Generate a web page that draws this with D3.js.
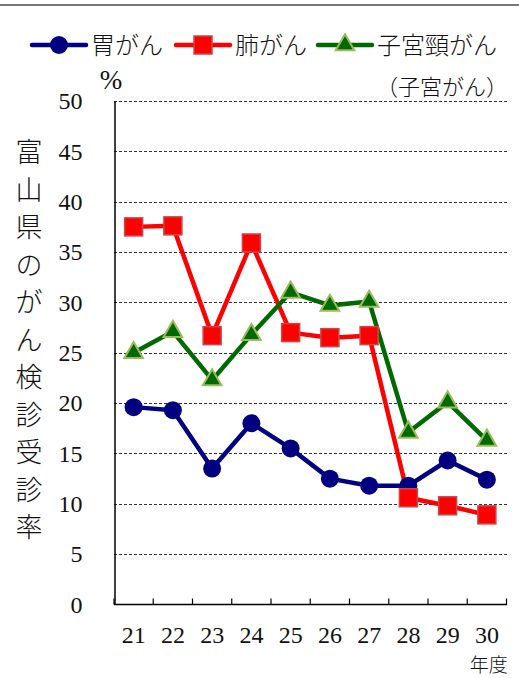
<!DOCTYPE html>
<html>
<head>
<meta charset="utf-8">
<script src="https://cdn.jsdelivr.net/npm/d3@7"></script>
<style>
  body { margin: 0; background: #fff; }
  svg { display: block; }
  .num { font-family: "Liberation Serif", "DejaVu Serif", serif; }
  .jp { font-family: "Noto Sans CJK JP", sans-serif; font-weight: 300; }
</style>
</head>
<body>
<div class="chart"></div>
<script>
const years = ["21", "22", "23", "24", "25", "26", "27", "28", "29", "30"];
const stomach = [19.6, 19.3, 13.5, 18.0, 15.5, 12.5, 11.8, 11.8, 14.3, 12.4];
const lung = [37.5, 37.6, 26.7, 35.9, 27.0, 26.5, 26.7, 10.6, 9.8, 8.9];
const cervix = [25.0, 27.1, 22.3, 26.8, 31.0, 29.7, 30.1, 17.1, 20.1, 16.3];
const yTicks = [0, 5, 10, 15, 20, 25, 30, 35, 40, 45, 50];
const seriesNames = ["胃がん", "肺がん", "子宮頸がん"];
const yTitle = "富山県のがん検診受診率";

const W = 519, H = 678;
const m = { left: 114, right: 12, top: 101, bottom: 73 };

const svg = d3.select(".chart").append("svg")
    .attr("width", W)
    .attr("height", H);

// top rule
svg.append("line")
    .attr("x1", 0).attr("x2", W)
    .attr("y1", 5).attr("y2", 5)
    .attr("stroke", "#777").attr("stroke-width", 2);

const x = d3.scaleBand()
    .domain(years)
    .range([m.left, W - m.right - 0.5]);
const y = d3.scaleLinear()
    .domain([0, 50])
    .range([H - m.bottom - 0.5, m.top]);

// grid
svg.append("g")
    .selectAll("line")
    .data(yTicks.filter(d => d > 0))
    .enter()
    .append("line")
    .attr("x1", m.left).attr("x2", W - m.right)
    .attr("y1", d => Math.round(y(d)) + 0.5)
    .attr("y2", d => Math.round(y(d)) + 0.5)
    .attr("stroke", "#333")
    .attr("stroke-width", 1.2)
    .attr("stroke-dasharray", "3,2");

// y axis
const yAxis = svg.append("g")
    .attr("transform", "translate(" + (m.left + 0.5) + ",0)")
    .call(d3.axisLeft(y).tickValues(yTicks).tickSize(0).tickPadding(32));
yAxis.select(".domain").attr("stroke", "#000").attr("stroke-width", 1.5);
yAxis.selectAll("text")
    .attr("class", "num")
    .attr("font-size", 24)
    .attr("fill", "#111");

// x axis
const xAxis = svg.append("g")
    .attr("transform", "translate(0," + y(0) + ")");
xAxis.append("line")
    .attr("x1", m.left).attr("x2", W - m.right)
    .attr("stroke", "#000").attr("stroke-width", 1.5);
const xTicks = years.map(d => x(d)).concat([x(years[years.length - 1]) + x.bandwidth()]);
xAxis.selectAll(".tk")
    .data(xTicks)
    .enter()
    .append("line")
    .attr("class", "tk")
    .attr("x1", d => d).attr("x2", d => d)
    .attr("y1", 0).attr("y2", -6)
    .attr("stroke", "#000").attr("stroke-width", 1.2);
xAxis.selectAll(".lbl")
    .data(years)
    .enter()
    .append("text")
    .attr("class", "num")
    .attr("x", d => x(d) + x.bandwidth() / 2)
    .attr("y", 38.5)
    .attr("text-anchor", "middle")
    .attr("font-size", 24)
    .attr("fill", "#111")
    .text(d => d);

svg.append("text")
    .attr("class", "jp")
    .attr("x", x("30") + x.bandwidth() / 2 + 2)
    .attr("y", 672)
    .attr("text-anchor", "middle")
    .attr("font-size", 19)
    .attr("fill", "#111")
    .text("年度");

// y title, vertical
svg.append("g")
    .selectAll("text")
    .data(yTitle.split(""))
    .enter()
    .append("text")
    .attr("class", "jp")
    .attr("x", 29)
    .attr("y", (d, i) => 162 + i * 37.5)
    .attr("text-anchor", "middle")
    .attr("font-size", 27)
    .attr("fill", "#111")
    .text(d => d);

svg.append("text")
    .attr("class", "num")
    .attr("x", 111).attr("y", 89)
    .attr("text-anchor", "middle")
    .attr("font-size", 27)
    .attr("fill", "#111")
    .text("%");

svg.append("text")
    .attr("class", "jp")
    .attr("x", 508).attr("y", 95)
    .attr("text-anchor", "end")
    .attr("font-size", 22)
    .attr("fill", "#111")
    .text("（子宮がん）");

const series = [
    { name: seriesNames[0], values: stomach, color: "#000080", marker: "circle" },
    { name: seriesNames[1], values: lung, color: "#ff0000", marker: "square" },
    { name: seriesNames[2], values: cervix, color: "#006a00", marker: "triangle" }
];

function drawMarker(g, type, color) {
    if (type === "circle") {
        g.append("circle").attr("r", 9).attr("fill", color);
    } else if (type === "square") {
        g.append("rect")
            .attr("x", -9).attr("y", -9)
            .attr("width", 18).attr("height", 18)
            .attr("fill", "#ff0000")
            .attr("stroke", "#c8474a").attr("stroke-width", 1.5);
    } else {
        g.append("path")
            .attr("d", d3.symbol().type(d3.symbolTriangle).size(150)())
            .attr("fill", color)
            .attr("stroke", "#9bbb59").attr("stroke-width", 2);
    }
}

const line = d3.line()
    .x((d, i) => x(years[i]) + x.bandwidth() / 2)
    .y(d => y(d));

series.forEach(s => {
    svg.append("path")
        .datum(s.values)
        .attr("fill", "none")
        .attr("stroke", s.color)
        .attr("stroke-width", 4.5)
        .attr("stroke-linejoin", "round")
        .attr("d", line);
});
series.forEach(s => {
    svg.append("g")
        .selectAll("g")
        .data(s.values)
        .enter()
        .append("g")
        .attr("transform", (d, i) => "translate(" + (x(years[i]) + x.bandwidth() / 2) + "," + y(d) + ")")
        .each(function() { drawMarker(d3.select(this), s.marker, s.color); });
});

// legend
const legendX = [32, 176, 318];
const legend = svg.append("g");
series.forEach((s, i) => {
    const g = legend.append("g").attr("transform", "translate(" + legendX[i] + ",45)");
    g.append("line")
        .attr("x1", 0).attr("x2", 54)
        .attr("stroke", s.color).attr("stroke-width", 4.5)
        .attr("stroke-linecap", "round");
    drawMarker(g.append("g").attr("transform", "translate(27,0)"), s.marker, s.color);
    g.append("text")
        .attr("class", "jp")
        .attr("x", 59).attr("y", 9)
        .attr("font-size", 24)
        .attr("fill", "#111")
        .text(s.name);
});
</script>
</body>
</html>
